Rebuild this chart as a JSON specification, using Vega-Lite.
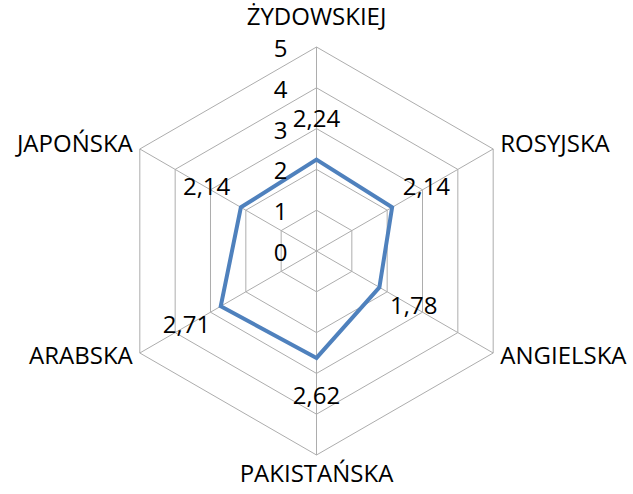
{
  "$schema": "https://vega.github.io/schema/vega-lite/v6.json",
  "width": 633,
  "height": 494,
  "padding": 0,
  "autosize": {"type": "none"},
  "background": "white",
  "config": {
    "view": {"stroke": null},
    "text": {"font": "Open Sans", "fontSize": 24, "color": "#000000", "baseline": "middle"},
    "locale": {"number": {"decimal": ",", "thousands": " ", "grouping": [3], "currency": ["", " zł"]}}
  },
  "datasets": {
    "langs": [
      {"jezyk": "ŻYDOWSKIEJ", "ocena": 2.24, "kolejnosc": 0},
      {"jezyk": "ROSYJSKA", "ocena": 2.14, "kolejnosc": 1},
      {"jezyk": "ANGIELSKA", "ocena": 1.78, "kolejnosc": 2},
      {"jezyk": "PAKISTAŃSKA", "ocena": 2.62, "kolejnosc": 3},
      {"jezyk": "ARABSKA", "ocena": 2.71, "kolejnosc": 4},
      {"jezyk": "JAPOŃSKA", "ocena": 2.14, "kolejnosc": 5}
    ],
    "levels": [
      {"poziom": 0}, {"poziom": 1}, {"poziom": 2}, {"poziom": 3}, {"poziom": 4}, {"poziom": 5}
    ],
    "grid": [
      {"poziom": 1, "k": [0, 1, 2, 3, 4, 5]},
      {"poziom": 2, "k": [0, 1, 2, 3, 4, 5]},
      {"poziom": 3, "k": [0, 1, 2, 3, 4, 5]},
      {"poziom": 4, "k": [0, 1, 2, 3, 4, 5]},
      {"poziom": 5, "k": [0, 1, 2, 3, 4, 5]}
    ]
  },
  "layer": [
    {
      "data": {"name": "grid"},
      "transform": [
        {"flatten": ["k"]},
        {"calculate": "datum.k * PI / 3", "as": "a"},
        {"calculate": "datum.poziom * sin(datum.a)", "as": "gx"},
        {"calculate": "datum.poziom * cos(datum.a)", "as": "gy"}
      ],
      "mark": {"type": "line", "interpolate": "linear-closed", "stroke": "#adadad", "strokeWidth": 1},
      "encoding": {
        "x": {"field": "gx", "type": "quantitative", "scale": {"domain": [-7.757, 7.757], "nice": false, "zero": false}, "axis": null},
        "y": {"field": "gy", "type": "quantitative", "scale": {"domain": [-5.956, 6.152], "nice": false, "zero": false}, "axis": null},
        "detail": {"field": "poziom", "type": "nominal"},
        "order": {"field": "k", "type": "quantitative"}
      }
    },
    {
      "data": {"name": "langs"},
      "transform": [
        {"calculate": "datum.kolejnosc * PI / 3", "as": "a"},
        {"calculate": "0", "as": "sx"},
        {"calculate": "5 * sin(datum.a)", "as": "ex"},
        {"calculate": "5 * cos(datum.a)", "as": "ey"}
      ],
      "mark": {"type": "rule", "stroke": "#adadad", "strokeWidth": 1},
      "encoding": {
        "x": {"field": "sx", "type": "quantitative", "scale": {"domain": [-7.757, 7.757], "nice": false, "zero": false}, "axis": null},
        "y": {"field": "sx", "type": "quantitative", "scale": {"domain": [-5.956, 6.152], "nice": false, "zero": false}, "axis": null},
        "x2": {"field": "ex"},
        "y2": {"field": "ey"}
      }
    },
    {
      "data": {"name": "langs"},
      "transform": [
        {"calculate": "datum.kolejnosc * PI / 3", "as": "a"},
        {"calculate": "datum.ocena * sin(datum.a)", "as": "px"},
        {"calculate": "datum.ocena * cos(datum.a)", "as": "py"}
      ],
      "mark": {"type": "line", "interpolate": "linear-closed", "stroke": "#4F81BD", "strokeWidth": 4},
      "encoding": {
        "x": {"field": "px", "type": "quantitative", "scale": {"domain": [-7.757, 7.757], "nice": false, "zero": false}, "axis": null},
        "y": {"field": "py", "type": "quantitative", "scale": {"domain": [-5.956, 6.152], "nice": false, "zero": false}, "axis": null},
        "order": {"field": "kolejnosc", "type": "quantitative"}
      }
    },
    {
      "data": {"name": "langs"},
      "transform": [
        {"calculate": "datum.kolejnosc * PI / 3", "as": "a"},
        {"calculate": "(datum.ocena + 0.97) * sin(datum.a)", "as": "tx"},
        {"calculate": "(datum.ocena + 0.97) * cos(datum.a)", "as": "ty"}
      ],
      "mark": {"type": "text", "align": "center"},
      "encoding": {
        "x": {"field": "tx", "type": "quantitative", "scale": {"domain": [-7.757, 7.757], "nice": false, "zero": false}, "axis": null},
        "y": {"field": "ty", "type": "quantitative", "scale": {"domain": [-5.956, 6.152], "nice": false, "zero": false}, "axis": null},
        "text": {"field": "ocena", "type": "quantitative", "format": ".2f"}
      }
    },
    {
      "data": {"name": "levels"},
      "transform": [{"calculate": "0", "as": "sx"}],
      "mark": {"type": "text", "align": "right", "dx": -29, "dy": 3},
      "encoding": {
        "x": {"field": "sx", "type": "quantitative", "scale": {"domain": [-7.757, 7.757], "nice": false, "zero": false}, "axis": null},
        "y": {"field": "poziom", "type": "quantitative", "scale": {"domain": [-5.956, 6.152], "nice": false, "zero": false}, "axis": null},
        "text": {"field": "poziom", "type": "quantitative", "format": "d"}
      }
    },
    {
      "data": {"name": "langs"},
      "transform": [
        {"filter": "datum.kolejnosc == 0 || datum.kolejnosc == 3"},
        {"calculate": "datum.kolejnosc * PI / 3", "as": "a"},
        {"calculate": "datum.kolejnosc == 0 ? 5.7 : 5.5", "as": "lr"},
        {"calculate": "datum.lr * sin(datum.a)", "as": "lx"},
        {"calculate": "datum.lr * cos(datum.a)", "as": "ly"}
      ],
      "mark": {"type": "text", "align": "center"},
      "encoding": {
        "x": {"field": "lx", "type": "quantitative", "scale": {"domain": [-7.757, 7.757], "nice": false, "zero": false}, "axis": null},
        "y": {"field": "ly", "type": "quantitative", "scale": {"domain": [-5.956, 6.152], "nice": false, "zero": false}, "axis": null},
        "text": {"field": "jezyk", "type": "nominal"}
      }
    },
    {
      "data": {"name": "langs"},
      "transform": [
        {"filter": "datum.kolejnosc == 1 || datum.kolejnosc == 2"},
        {"calculate": "datum.kolejnosc * PI / 3", "as": "a"},
        {"calculate": "5.2 * sin(datum.a)", "as": "lx"},
        {"calculate": "5.2 * cos(datum.a)", "as": "ly"}
      ],
      "mark": {"type": "text", "align": "left"},
      "encoding": {
        "x": {"field": "lx", "type": "quantitative", "scale": {"domain": [-7.757, 7.757], "nice": false, "zero": false}, "axis": null},
        "y": {"field": "ly", "type": "quantitative", "scale": {"domain": [-5.956, 6.152], "nice": false, "zero": false}, "axis": null},
        "text": {"field": "jezyk", "type": "nominal"}
      }
    },
    {
      "data": {"name": "langs"},
      "transform": [
        {"filter": "datum.kolejnosc == 4 || datum.kolejnosc == 5"},
        {"calculate": "datum.kolejnosc * PI / 3", "as": "a"},
        {"calculate": "5.2 * sin(datum.a)", "as": "lx"},
        {"calculate": "5.2 * cos(datum.a)", "as": "ly"}
      ],
      "mark": {"type": "text", "align": "right"},
      "encoding": {
        "x": {"field": "lx", "type": "quantitative", "scale": {"domain": [-7.757, 7.757], "nice": false, "zero": false}, "axis": null},
        "y": {"field": "ly", "type": "quantitative", "scale": {"domain": [-5.956, 6.152], "nice": false, "zero": false}, "axis": null},
        "text": {"field": "jezyk", "type": "nominal"}
      }
    }
  ]
}
